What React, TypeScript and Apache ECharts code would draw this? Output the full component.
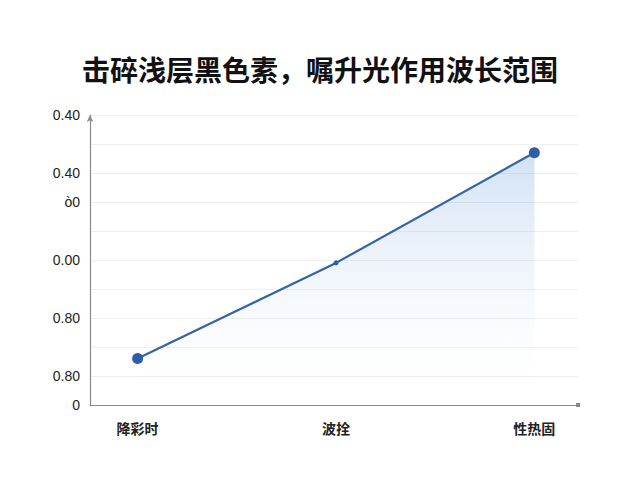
import React, { useEffect, useRef } from "react";
import * as echarts from "echarts";

const title = "击碎浅层黑色素，嘱升光作用波长范围";
const categories = ["降彩时", "波拴", "性热固"];
const values = [1.6, 4.9, 8.7];
const symbolSizes = [11, 5, 11];
// labels on the y ticks, from the bottom (0) to the top (10)
const yTickLabels = ["0", "0.80", "", "0.80", "", "0.00", "", "ò0", "0.40", "", "0.40"];

const App: React.FC = () => {
  const chartRef = useRef<HTMLDivElement>(null);

  useEffect(() => {
    if (!chartRef.current) return;
    const chart = echarts.init(chartRef.current, undefined, { renderer: "svg" });

    const option: echarts.EChartsOption = {
      animation: false,
      backgroundColor: "#fff",
      title: {
        text: title,
        left: "center",
        top: 42,
        textStyle: {
          fontFamily: "Noto Sans CJK SC",
          fontSize: 28,
          fontWeight: "bold",
          color: "#111",
        },
      },
      grid: { left: 82, right: 54, top: 107, bottom: 67 },
      xAxis: {
        type: "value",
        min: -0.24,
        max: 2.22,
        splitLine: { show: false },
        axisTick: { show: false },
        axisLine: {
          show: true,
          onZero: false,
          symbol: ["none", "rect"],
          symbolSize: [4, 4],
          lineStyle: { color: "#8a8a8a", width: 1.2 },
        },
        axisLabel: {
          customValues: [0, 1, 2],
          margin: 16,
          fontFamily: "Noto Sans CJK SC",
          fontSize: 14,
          fontWeight: "bold",
          color: "#222",
          formatter: (v: number) => categories[Math.round(v)] ?? "",
        },
      },
      yAxis: {
        type: "value",
        min: 0,
        max: 10,
        interval: 1,
        axisTick: { show: false },
        axisLine: {
          show: true,
          onZero: false,
          symbol: ["none", "arrow"],
          symbolSize: [5, 7],
          lineStyle: { color: "#8a8a8a", width: 1.2 },
        },
        splitLine: { lineStyle: { color: "#eeeeee" } },
        axisLabel: {
          margin: 10,
          fontFamily: "Liberation Sans",
          fontSize: 14,
          color: "#222",
          formatter: (v: number) => yTickLabels[Math.round(v)] ?? "",
        },
      },
      series: [
        {
          type: "line",
          data: values.map((v, i) => ({
            value: [i, v],
            symbolSize: symbolSizes[i],
          })),
          symbol: "circle",
          lineStyle: { color: "#3563a8", width: 2.2 },
          itemStyle: { color: "#2f5ea8" },
          areaStyle: {
            color: new echarts.graphic.LinearGradient(0, 0, 0, 1, [
              { offset: 0, color: "rgba(110,160,220,0.45)" },
              { offset: 0.7, color: "rgba(170,200,235,0.08)" },
              { offset: 1, color: "rgba(255,255,255,0)" },
            ]),
          },
        },
      ],
    };

    chart.setOption(option);
    return () => chart.dispose();
  }, []);

  return <div ref={chartRef} style={{ width: 624, height: 464 }} />;
};

export default App;
